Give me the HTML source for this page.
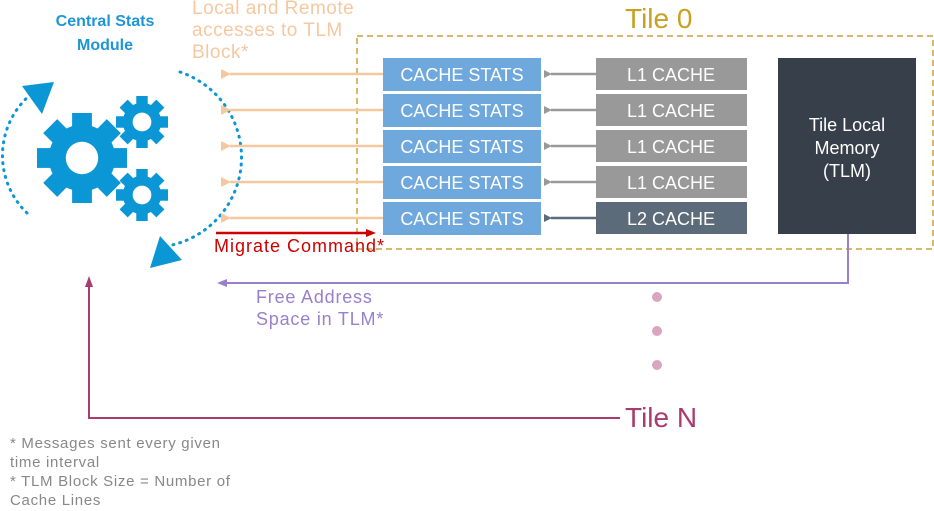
<!DOCTYPE html>
<html><head><style>
body{margin:0;background:#fff;}
svg text{font-family:"Liberation Sans","DejaVu Sans",sans-serif;}
</style></head><body>
<svg width="934" height="506" viewBox="0 0 934 506" xmlns="http://www.w3.org/2000/svg">
<defs>
<marker id="ao" markerWidth="10" markerHeight="10" refX="1" refY="5" orient="auto" markerUnits="userSpaceOnUse"><path d="M0,5 L10,0 L10,10z" fill="#f6c8a0"/></marker>
<marker id="ag" markerWidth="8" markerHeight="8" refX="1" refY="4" orient="auto" markerUnits="userSpaceOnUse"><path d="M0,4 L8,0 L8,8z" fill="#999"/></marker>
<marker id="ad" markerWidth="8" markerHeight="8" refX="1" refY="4" orient="auto" markerUnits="userSpaceOnUse"><path d="M0,4 L8,0 L8,8z" fill="#5c6b7a"/></marker>
<g id="gear"><circle r="0.74" fill="#0b96d6"/>
<g fill="#0b96d6"><rect x="-0.22" y="-1" width="0.44" height="2"/><rect x="-0.22" y="-1" width="0.44" height="2" transform="rotate(45)"/><rect x="-0.22" y="-1" width="0.44" height="2" transform="rotate(90)"/><rect x="-0.22" y="-1" width="0.44" height="2" transform="rotate(135)"/></g>
<circle r="0.36" fill="#fff"/></g>
</defs>
<text x="105" y="26" font-size="16" font-weight="bold" fill="#1e96d6" text-anchor="middle">Central Stats</text>
<text x="105" y="50" font-size="16" font-weight="bold" fill="#1e96d6" text-anchor="middle">Module</text>
<use href="#gear" transform="translate(82,158) scale(45)"/>
<use href="#gear" transform="translate(142,122) scale(26)"/>
<use href="#gear" transform="translate(142,195) scale(26)"/>
<path d="M27,213 A80,80 0 0 1 30,95" fill="none" stroke="#0b96d6" stroke-width="3" stroke-dasharray="1 6" stroke-linecap="round"/>
<path d="M22,86 L54,82 L42,114z" fill="#0b96d6"/>
<path d="M180,72 A90,90 0 0 1 172,245" fill="none" stroke="#0b96d6" stroke-width="3" stroke-dasharray="1 6" stroke-linecap="round"/>
<path d="M150,268 L160,236 L182,260z" fill="#0b96d6"/>
<g font-size="19" fill="#f6c8a0" letter-spacing="0.5">
<text x="192" y="14">Local and Remote</text>
<text x="192" y="36">accesses to TLM</text>
<text x="192" y="58">Block*</text></g>
<rect x="357" y="36" width="576" height="213" fill="none" stroke="#c9a03a" stroke-width="1.5" stroke-dasharray="6 4"/>
<text x="625" y="28" font-size="28" fill="#c9a020">Tile 0</text>
<g stroke="#f6c8a0" stroke-width="2.5">
<line x1="383" y1="74" x2="230" y2="74" marker-end="url(#ao)"/>
<line x1="383" y1="110" x2="230" y2="110" marker-end="url(#ao)"/>
<line x1="383" y1="146" x2="230" y2="146" marker-end="url(#ao)"/>
<line x1="383" y1="182" x2="230" y2="182" marker-end="url(#ao)"/>
<line x1="383" y1="218" x2="230" y2="218" marker-end="url(#ao)"/>
</g>
<line x1="216" y1="233" x2="368" y2="233" stroke="#cc0000" stroke-width="2.5"/>
<path d="M376,233 L366,229 L366,237z" fill="#cc0000"/>
<text x="214" y="252" font-size="18" fill="#cc0000" letter-spacing="1">Migrate Command*</text>
<g font-size="18" fill="#fff" text-anchor="middle">
<rect x="383" y="58" width="158" height="33" fill="#6fa8dc"/><text x="462" y="81">CACHE STATS</text>
<rect x="383" y="94" width="158" height="33" fill="#6fa8dc"/><text x="462" y="117">CACHE STATS</text>
<rect x="383" y="130" width="158" height="33" fill="#6fa8dc"/><text x="462" y="153">CACHE STATS</text>
<rect x="383" y="166" width="158" height="33" fill="#6fa8dc"/><text x="462" y="189">CACHE STATS</text>
<rect x="383" y="202" width="158" height="33" fill="#6fa8dc"/><text x="462" y="225">CACHE STATS</text>
<rect x="596" y="58" width="151" height="32" fill="#999"/><text x="671" y="81">L1 CACHE</text>
<rect x="596" y="94" width="151" height="32" fill="#999"/><text x="671" y="117">L1 CACHE</text>
<rect x="596" y="130" width="151" height="32" fill="#999"/><text x="671" y="153">L1 CACHE</text>
<rect x="596" y="166" width="151" height="32" fill="#999"/><text x="671" y="189">L1 CACHE</text>
<rect x="596" y="202" width="151" height="32" fill="#5c6b7a"/><text x="671" y="225">L2 CACHE</text>
<rect x="778" y="58" width="138" height="176" fill="#37404a"/>
<text x="847" y="131">Tile Local</text><text x="847" y="154">Memory</text><text x="847" y="177">(TLM)</text>
</g>
<g stroke-width="2.5">
<line x1="596" y1="74" x2="551" y2="74" stroke="#999" marker-end="url(#ag)"/>
<line x1="596" y1="110" x2="551" y2="110" stroke="#999" marker-end="url(#ag)"/>
<line x1="596" y1="146" x2="551" y2="146" stroke="#999" marker-end="url(#ag)"/>
<line x1="596" y1="182" x2="551" y2="182" stroke="#999" marker-end="url(#ag)"/>
<line x1="596" y1="218" x2="551" y2="218" stroke="#5c6b7a" marker-end="url(#ad)"/>
</g>
<path d="M848,234 V283 H226" fill="none" stroke="#9a80cc" stroke-width="2"/>
<path d="M217,283 L227,279 L227,287z" fill="#9a80cc"/>
<g font-size="18" fill="#9a80cc" letter-spacing="0.8">
<text x="256" y="303">Free Address</text>
<text x="256" y="325">Space in TLM*</text></g>
<circle cx="657" cy="297" r="5" fill="#d9a5bf"/>
<circle cx="657" cy="331" r="5" fill="#d9a5bf"/>
<circle cx="657" cy="365" r="5" fill="#d9a5bf"/>
<path d="M620,418 H89 V285" fill="none" stroke="#a83c70" stroke-width="2"/>
<path d="M89,276 L85,287 L93,287z" fill="#a83c70"/>
<text x="625" y="427" font-size="28" fill="#a83c70">Tile N</text>
<g font-size="15" fill="#888" letter-spacing="0.7">
<text x="10" y="448">* Messages sent every given</text>
<text x="10" y="467">time interval</text>
<text x="10" y="486">* TLM Block Size = Number of</text>
<text x="10" y="505">Cache Lines</text>
</g>
</svg>
</body></html>
